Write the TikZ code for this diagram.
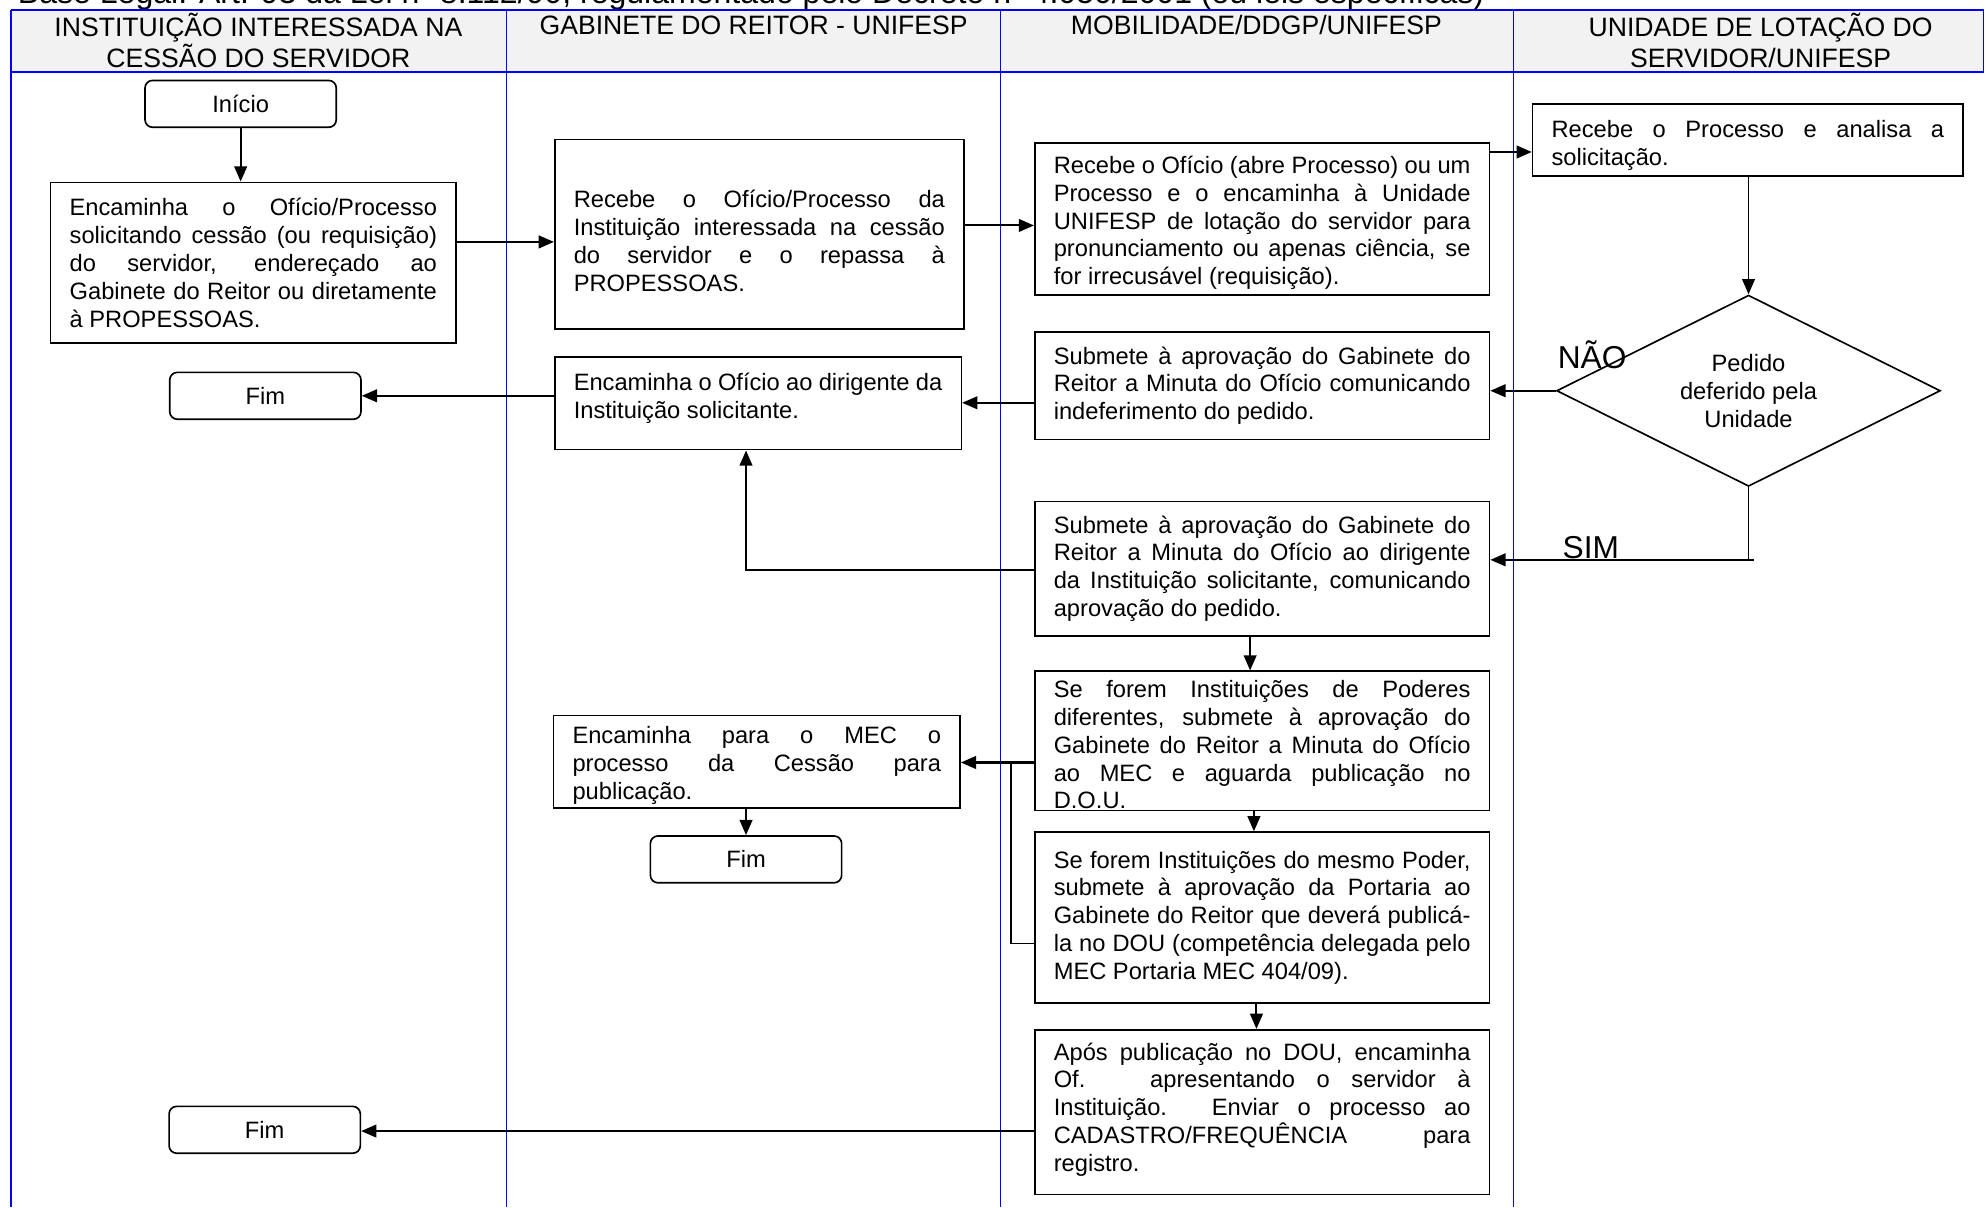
\documentclass[tikz,border=0pt]{standalone}
\usepackage{fontspec}
\setmainfont{Liberation Sans}
\usetikzlibrary{shapes.geometric,arrows.meta}
\newcommand\JL[1]{\hbox to \hsize{#1}}
\newcommand\LL[1]{\hbox to \hsize{#1\hfil}}
\newcommand\TB[3][0pt]{\vbox{\hsize=#2\relax\kern#1\relax #3\kern-#1\relax}}
\definecolor{hdr}{HTML}{F2F2F2}
\begin{document}
\begin{tikzpicture}[x=1pt,y=-1pt,
  every node/.style={font=\fontsize{18.7}{22}\selectfont},
  hdrtext/.style={font=\fontsize{21}{24}\selectfont, align=center, inner sep=0pt},
  proc/.style={draw, line width=1.3pt, inner xsep=15pt, inner ysep=0pt, minimum height=#1},
  term/.style={draw, line width=1.3pt, rounded corners=6pt, minimum width=151pt, minimum height=37pt, inner sep=0pt},
  conn/.style={line width=1.6pt, -{Triangle[length=12pt,width=10pt]}},
  plain/.style={line width=1.6pt},
  lane/.style={blue, line width=1pt},
  yesno/.style={font=\fontsize{25}{28}\selectfont, inner sep=0pt}
]
\useasboundingbox (0,0) rectangle (1568,953);
\clip (0,0) rectangle (1568,953);

% top caption (partly cut off)
\node[anchor=base west, inner sep=0pt, font=\fontsize{25.3}{28}\selectfont] (cap) at (14,3)
  {Base Legal: Art. 93 da Lei nº 8.112/90, regulamentado pelo Decreto nº 4.050/2001 (ou leis específicas)};

% swimlane header
\fill[hdr] (9,8) rectangle (1566,57);
\draw[blue, line width=1.4pt] (9,8) rectangle (1566,57);
\draw[blue, line width=1.5pt] (9,8) -- (9,953);
\draw[lane] (400,8) -- (400,953);
\draw[lane] (790,8) -- (790,953);
\draw[lane] (1195,8) -- (1195,953);

\node[hdrtext] (h1) at (204,32) {INSTITUIÇÃO INTERESSADA NA\\CESSÃO DO SERVIDOR};
\node[hdrtext] (h2) at (595,20) {GABINETE DO REITOR - UNIFESP};
\node[hdrtext] (h3) at (992,20) {MOBILIDADE/DDGP/UNIFESP};
\node[hdrtext] (h4) at (1390,32) {UNIDADE DE LOTAÇÃO DO\\SERVIDOR/UNIFESP};

% terminals
\node[term] (ini) at (190,82) {Início};
\node[term] (fim1) at (209.5,312.5) {Fim};
\node[term] (fim2) at (589,678.5) {Fim};
\node[term] (fim3) at (209,892) {Fim};

% process boxes
\node[proc=127pt] (A) at (200,207.5) {\TB{290pt}{%
\JL{Encaminha o Ofício/Processo}%
\JL{solicitando cessão (ou requisição)}%
\JL{do servidor, endereçado ao}%
\JL{Gabinete do Reitor ou diretamente}%
\LL{à PROPESSOAS.}}};

\node[proc=150pt] (B) at (599.5,185) {\TB[5pt]{293pt}{%
\JL{Recebe o Ofício/Processo da}%
\JL{Instituição interessada na cessão}%
\JL{do servidor e o repassa à}%
\LL{PROPESSOAS.}}};

\node[proc=120pt] (C) at (996.5,173) {\TB[3pt]{329pt}{%
\JL{Recebe o Ofício (abre Processo) ou um}%
\JL{Processo e o encaminha à Unidade}%
\JL{UNIFESP de lotação do servidor para}%
\JL{pronunciamento ou apenas ciência, se}%
\LL{for irrecusável (requisição).}}};

\node[proc=57pt] (D) at (1380,110.5) {\TB[4pt]{310pt}{%
\JL{Recebe o Processo e analisa a}%
\LL{solicitação.}}};

\node[draw, line width=1.3pt, diamond, aspect=2, minimum width=303pt, minimum height=151pt, inner sep=0pt, align=center] (dia) at (1380.5,308.5)
  {Pedido\\deferido pela\\Unidade};

\node[proc=85pt] (E) at (996.5,304.5) {\TB{329pt}{%
\JL{Submete à aprovação do Gabinete do}%
\JL{Reitor a Minuta do Ofício comunicando}%
\LL{indeferimento do pedido.}}};

\node[proc=73pt] (F) at (598.5,318.5) {\TB[-4pt]{291pt}{%
\JL{Encaminha o Ofício ao dirigente da}%
\LL{Instituição solicitante.}}};

\node[proc=106pt] (G) at (996.5,449) {\TB{329pt}{%
\JL{Submete à aprovação do Gabinete do}%
\JL{Reitor a Minuta do Ofício ao dirigente}%
\JL{da Instituição solicitante, comunicando}%
\LL{aprovação do pedido.}}};

\node[proc=110pt] (H) at (996.5,585) {\TB[3pt]{329pt}{%
\JL{Se forem Instituições de Poderes}%
\JL{diferentes, submete à aprovação do}%
\JL{Gabinete do Reitor a Minuta do Ofício}%
\JL{ao MEC e aguarda publicação no}%
\LL{D.O.U.}}};

\node[proc=73pt] (I) at (597.5,601.5) {\TB[3pt]{291pt}{%
\JL{Encaminha para o MEC o}%
\JL{processo da Cessão para}%
\LL{publicação.}}};

\node[proc=135pt] (J) at (996.5,724.5) {\TB{329pt}{%
\JL{Se forem Instituições do mesmo Poder,}%
\JL{submete à aprovação da Portaria ao}%
\JL{Gabinete do Reitor que deverá publicá-}%
\JL{la no DOU (competência delegada pelo}%
\LL{MEC Portaria MEC 404/09).}}};

\node[proc=130pt] (K) at (996.5,878) {\TB[-2pt]{329pt}{%
\JL{Após publicação no DOU, encaminha}%
\JL{Of.\ \ \ apresentando o servidor à}%
\JL{Instituição. Enviar o processo ao}%
\JL{CADASTRO/FREQUÊNCIA para}%
\LL{registro.}}};

% labels
\node[yesno] (nao) at (1257,280) {NÃO};
\node[yesno] (sim) at (1256,432) {SIM};

% connectors
\draw[conn] (ini.south) -- (ini.south |- A.north);
\draw[conn] (A.east |- 0,191) -- (B.west |- 0,191);
\draw[conn] (B.east |- 0,178) -- (C.west |- 0,178);
\draw[conn] (C.east |- 0,120) -- (D.west |- 0,120);
\draw[conn, line width=1.3pt] (D.south -| dia.north) -- (dia.north);
\draw[conn] (dia.west) -- (E.east |- dia.west);
\draw[conn] (E.west |- 0,318) -- (F.east |- 0,318);
\draw[conn] (F.west |- fim1.east) -- (fim1.east);
\draw[plain, line width=1.3pt] (dia.south) -- (dia.south |- 0,442);
\draw[conn] (1385,442) -- (G.east |- 0,442);
\draw[conn] (G.west |- 0,450) -| (589,0 |- F.south);
\draw[conn] (987,0 |- G.south) -- (987,0 |- H.north);
\draw[conn] (H.west |- 0,602) -- (I.east |- 0,602);
\draw[plain, line width=1.3pt] (J.west |- 0,745) -| (798,602);
\draw[conn] (589,0 |- I.south) -- (fim2.north);
\draw[conn] (990,0 |- H.south) -- (990,0 |- J.north);
\draw[conn] (992,0 |- J.south) -- (992,0 |- K.north);
\draw[conn] (K.west |- 0,893) -- (fim3.east |- 0,893);
\end{tikzpicture}
\end{document}
